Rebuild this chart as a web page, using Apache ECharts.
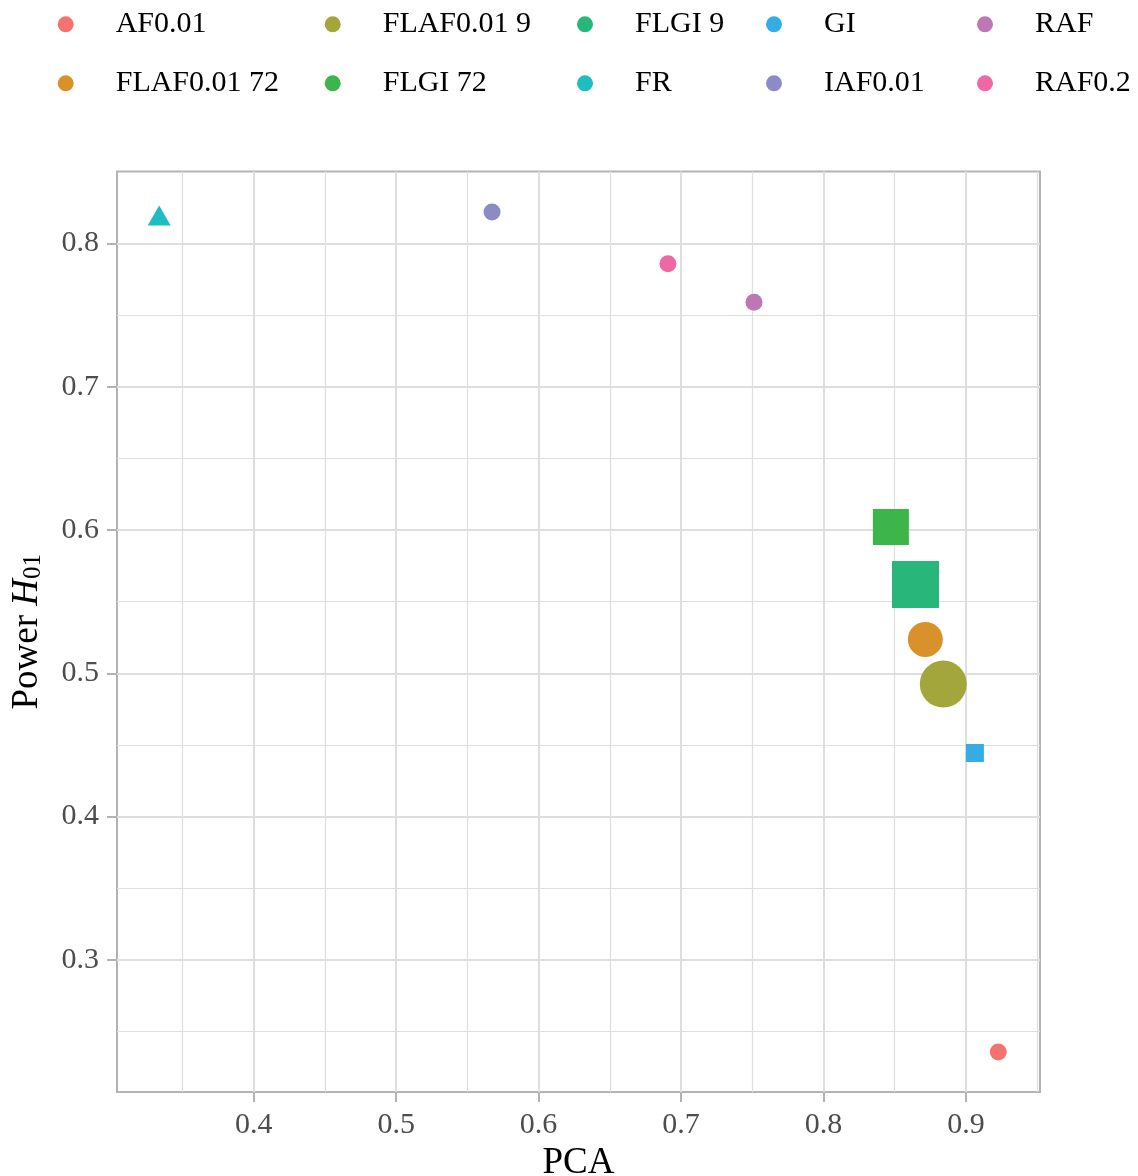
<!DOCTYPE html>
<html>
<head>
<meta charset="utf-8">
<script src="https://cdn.jsdelivr.net/npm/echarts@6/dist/echarts.min.js"></script>
<style>
html,body{margin:0;padding:0;background:#fff;}
#chart{width:1138px;height:1176px;}
</style>
</head>
<body>
<div id="chart"></div>
<script>
// ---- data ----
const groups = ['AF0.01', 'FLAF0.01 72', 'FLAF0.01 9', 'FLGI 72', 'FLGI 9', 'FR', 'GI', 'IAF0.01', 'RAF', 'RAF0.2'];
const pcaValues = [0.9227, 0.8715, 0.8841, 0.8473, 0.8646, 0.3336, 0.9063, 0.5673, 0.7512, 0.6908];
const powerValues = [0.2357, 0.5236, 0.4925, 0.6021, 0.5620, 0.8195, 0.4444, 0.8219, 0.7589, 0.7858];
const xTicks = [0.4, 0.5, 0.6, 0.7, 0.8, 0.9];
const yTicks = [0.3, 0.4, 0.5, 0.6, 0.7, 0.8];
const xMinor = [0.35, 0.45, 0.55, 0.65, 0.75, 0.85, 0.95];
const yMinor = [0.25, 0.35, 0.45, 0.55, 0.65, 0.75];
const legendColumns = [
  ['AF0.01', 'FLAF0.01 72'],
  ['FLAF0.01 9', 'FLGI 72'],
  ['FLGI 9', 'FR'],
  ['GI', 'IAF0.01'],
  ['RAF', 'RAF0.2']
];

// ---- styles ----
const colors = {
  'AF0.01': '#F4736F', 'FLAF0.01 72': '#D9922A', 'FLAF0.01 9': '#A3A63A',
  'FLGI 72': '#3DB54A', 'FLGI 9': '#29B67A', 'FR': '#1DBDC1', 'GI': '#34ADE4',
  'IAF0.01': '#8D8BC6', 'RAF': '#BD77B4', 'RAF0.2': '#EE68A5'
};
const shapes = {
  'AF0.01': 'circle', 'FLAF0.01 72': 'circle', 'FLAF0.01 9': 'circle',
  'FLGI 72': 'rect', 'FLGI 9': 'rect', 'FR': 'triangle', 'GI': 'rect',
  'IAF0.01': 'circle', 'RAF': 'circle', 'RAF0.2': 'circle'
};
const markerSizes = {
  'AF0.01': 17, 'FLAF0.01 72': 35, 'FLAF0.01 9': 47, 'FLGI 72': 36, 'FLGI 9': 47,
  'FR': [23, 20], 'GI': 18, 'IAF0.01': 17, 'RAF': 17, 'RAF0.2': 17
};
const legendIconCenters = [65.7, 332.7, 585, 774, 985];

const serif = 'Liberation Serif, Times New Roman, serif';
const chart = echarts.init(document.getElementById('chart'));

const series = groups.map((g, i) => ({
  name: g,
  type: 'scatter',
  z: 3,
  symbol: shapes[g],
  symbolSize: markerSizes[g],
  itemStyle: { color: colors[g], opacity: 1 },
  data: [[pcaValues[i], powerValues[i]]],
  emphasis: { disabled: true }
}));

series.push({
  type: 'scatter',
  z: 1,
  silent: true,
  data: [],
  markLine: {
    z: 1,
    silent: true,
    symbol: 'none',
    animation: false,
    label: { show: false },
    lineStyle: { color: '#DEDEDE', width: 1.2, type: 'solid' },
    emphasis: { disabled: true },
    data: xMinor.map(v => ({ xAxis: v })).concat(yMinor.map(v => ({ yAxis: v })))
  }
});

const legends = legendColumns.map((col, ci) => ({
  orient: 'vertical',
  left: legendIconCenters[ci] - 8,
  top: 9.3,
  padding: 0,
  itemGap: 29,
  itemWidth: 16,
  itemHeight: 16,
  icon: 'circle',
  selectedMode: false,
  data: col,
  textStyle: {
    fontFamily: serif, fontSize: 30, lineHeight: 30, color: '#000',
    padding: [0, 0, 0, 37]
  }
}));

const option = {
  animation: false,
  backgroundColor: '#fff',
  legend: legends,
  grid: {
    left: 117, right: 98, top: 171.5, bottom: 84,
    outerBoundsMode: 'none',
    containLabel: false,
    show: true, borderColor: '#B3B3B3', borderWidth: 2, backgroundColor: 'transparent'
  },
  xAxis: {
    type: 'value',
    min: 0.304, max: 0.952,
    name: 'PCA',
    nameLocation: 'middle',
    nameGap: 52,
    nameTextStyle: { fontFamily: serif, fontSize: 37, lineHeight: 37, color: '#000' },
    axisLine: { show: false },
    axisTick: { show: true, length: 10, customValues: xTicks, lineStyle: { color: '#B3B3B3', width: 2 } },
    axisLabel: {
      customValues: xTicks, margin: 18, fontFamily: serif, fontSize: 30, lineHeight: 30, color: '#4D4D4D',
      formatter: v => v.toFixed(1)
    },
    splitLine: { show: true, lineStyle: { color: '#DEDEDE', width: 2 } }
  },
  yAxis: {
    type: 'value',
    min: 0.2078, max: 0.8502,
    name: '{r|Power }{i|H}{s|01}',
    nameLocation: 'middle',
    nameRotate: 90,
    nameGap: 71,
    nameTextStyle: {
      fontFamily: serif, fontSize: 37, color: '#000',
      rich: {
        r: { fontFamily: serif, fontSize: 37, lineHeight: 37, verticalAlign: 'top', color: '#000' },
        i: { fontFamily: serif, fontSize: 37, lineHeight: 37, fontStyle: 'italic', verticalAlign: 'top', color: '#000' },
        s: { fontFamily: serif, fontSize: 25, lineHeight: 25, verticalAlign: 'bottom', padding: [21, 0, 0, 0], color: '#000' }
      }
    },
    axisLine: { show: false },
    axisTick: { show: true, length: 10, customValues: yTicks, lineStyle: { color: '#B3B3B3', width: 2 } },
    axisLabel: {
      customValues: yTicks, margin: 18, fontFamily: serif, fontSize: 30, lineHeight: 30, color: '#4D4D4D',
      formatter: v => v.toFixed(1)
    },
    splitLine: { show: true, lineStyle: { color: '#DEDEDE', width: 2 } }
  },
  series: series
};
chart.setOption(option);
</script>
</body>
</html>
